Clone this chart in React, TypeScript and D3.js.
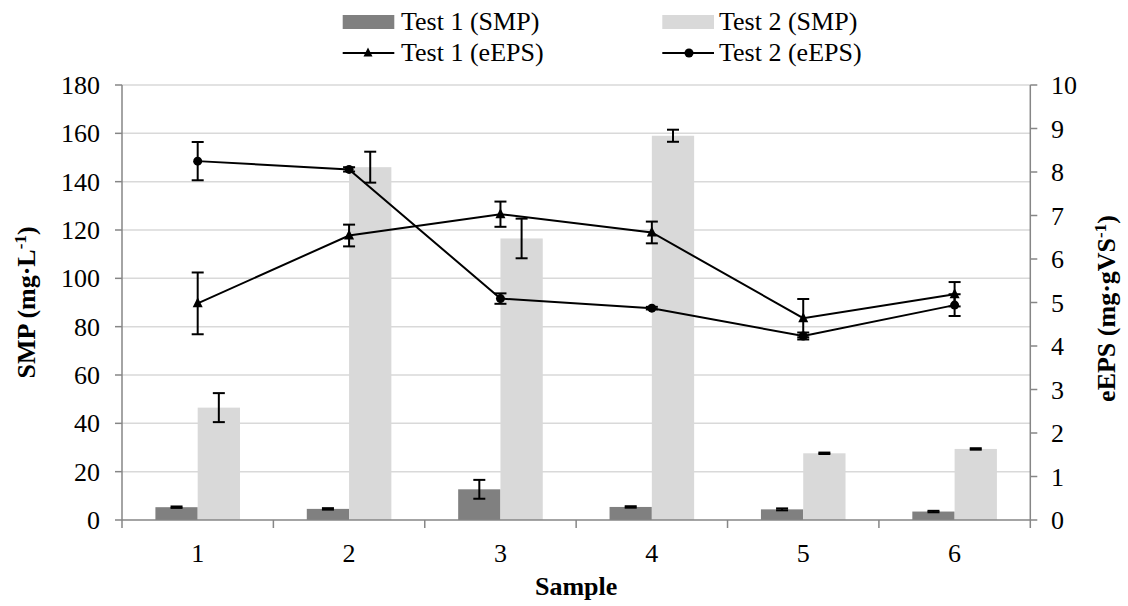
import React from "react";
import * as d3 from "d3";

// sample categories and series
const samples = ["1", "2", "3", "4", "5", "6"];

const smpTest1 = [5.3, 4.6, 12.7, 5.4, 4.4, 3.5];
const smpTest1Err = [0.3, 0.3, 3.9, 0.3, 0.4, 0.3];
const smpTest2 = [46.5, 146, 116.5, 159, 27.6, 29.4];
const smpTest2Err = [6, 6.4, 8.2, 2.5, 0.3, 0.3];

const epsTest1 = [4.98, 6.54, 7.03, 6.61, 4.64, 5.19];
const epsTest1Err = [0.71, 0.25, 0.29, 0.25, 0.44, 0.28];
const epsTest2 = [8.25, 8.06, 5.09, 4.87, 4.23, 4.94];
const epsTest2Err = [0.44, 0.05, 0.12, 0.03, 0.08, 0.25];

const leftTicks = [0, 20, 40, 60, 80, 100, 120, 140, 160, 180];
const rightTicks = [0, 1, 2, 3, 4, 5, 6, 7, 8, 9, 10];
const barSeries = ["Test 1 (SMP)", "Test 2 (SMP)"];

const width = 1128;
const height = 606;
const margin = { top: 85, right: 97.7, bottom: 86, left: 122 };

const font = "Liberation Serif";
const fs = 26;
const axisColor = "#868686";
const gridColor = "#d9d9d9";
const barColors = ["#808080", "#d9d9d9"];

const App = () => {
    const x0 = d3.scaleBand().domain(samples).range([margin.left, width - margin.right]).padding(0);
    const x1 = d3.scaleBand().domain(barSeries).range([0, x0.bandwidth()]).paddingInner(0).paddingOuter(0.79);
    const yL = d3.scaleLinear().domain([0, 180]).range([height - margin.bottom, margin.top]);
    const yR = d3.scaleLinear().domain([0, 10]).range([height - margin.bottom, margin.top]);

    const cx = (i: number) => (x0(samples[i]) as number) + x0.bandwidth() / 2;
    const bx = (i: number, s: number) => (x0(samples[i]) as number) + (x1(barSeries[s]) as number);

    const line = d3.line<number>().x((_, i) => cx(i)).y((d) => yR(d));

    const cap = 6;
    const errBar = (x: number, yTop: number, yBot: number, key: string) => (
        <g key={key} stroke="black" strokeWidth={2}>
            <line x1={x} x2={x} y1={yTop} y2={yBot} />
            <line x1={x - cap} x2={x + cap} y1={yTop} y2={yTop} />
            <line x1={x - cap} x2={x + cap} y1={yBot} y2={yBot} />
        </g>
    );

    const tri = (x: number, y: number, s = 5) => `M${x},${y - s - 1}L${x + s},${y + s - 1}L${x - s},${y + s - 1}Z`;

    const x0Left = margin.left;
    const x0Right = width - margin.right;
    const yBase = height - margin.bottom;

    return (
        <div style={{ position: "absolute", left: 0, top: 0 }}>
            <svg width={width} height={height} fontFamily={font} style={{ display: "block", background: "white" }}>
                {/* gridlines */}
                {leftTicks.slice(1).map((t) => (
                    <line key={"g" + t} x1={x0Left} x2={x0Right} y1={yL(t)} y2={yL(t)} stroke={gridColor} strokeWidth={1.5} />
                ))}

                {/* bars */}
                {smpTest1.map((d, i) => (
                    <rect key={"b1" + i} x={bx(i, 0)} y={yL(d)} width={x1.bandwidth()} height={yBase - yL(d)} fill={barColors[0]} />
                ))}
                {smpTest2.map((d, i) => (
                    <rect key={"b2" + i} x={bx(i, 1)} y={yL(d)} width={x1.bandwidth()} height={yBase - yL(d)} fill={barColors[1]} />
                ))}
                {smpTest1.map((d, i) =>
                    errBar(bx(i, 0) + x1.bandwidth() / 2, yL(d + smpTest1Err[i]), yL(d - smpTest1Err[i]), "e1" + i)
                )}
                {smpTest2.map((d, i) =>
                    errBar(bx(i, 1) + x1.bandwidth() / 2, yL(d + smpTest2Err[i]), yL(d - smpTest2Err[i]), "e2" + i)
                )}

                {/* axes */}
                <line x1={x0Left} x2={x0Left} y1={margin.top} y2={yBase} stroke={axisColor} strokeWidth={1.5} />
                <line x1={x0Right} x2={x0Right} y1={margin.top} y2={yBase} stroke={axisColor} strokeWidth={1.5} />
                <line x1={x0Left} x2={x0Right} y1={yBase} y2={yBase} stroke={axisColor} strokeWidth={1.5} />
                {leftTicks.map((t) => (
                    <g key={"lt" + t}>
                        <line x1={x0Left - 7} x2={x0Left} y1={yL(t)} y2={yL(t)} stroke={axisColor} strokeWidth={1.5} />
                        <text x={100} y={yL(t)} dy="0.35em" textAnchor="end" fontSize={fs} fontFamily={font}>{t}</text>
                    </g>
                ))}
                {rightTicks.map((t) => (
                    <g key={"rt" + t}>
                        <line x1={x0Right} x2={x0Right + 7} y1={yR(t)} y2={yR(t)} stroke={axisColor} strokeWidth={1.5} />
                        <text x={1051} y={yR(t)} dy="0.35em" textAnchor="start" fontSize={fs} fontFamily={font}>{t}</text>
                    </g>
                ))}
                {samples.map((s, i) => (
                    <g key={"xt" + s}>
                        <line x1={x0(s) as number} x2={x0(s) as number} y1={yBase} y2={yBase + 8} stroke={axisColor} strokeWidth={1.5} />
                        <text x={cx(i)} y={yBase + 33} dy="0.35em" textAnchor="middle" fontSize={fs} fontFamily={font}>{s}</text>
                    </g>
                ))}
                <line x1={x0Right} x2={x0Right} y1={yBase} y2={yBase + 8} stroke={axisColor} strokeWidth={1.5} />

                {/* lines */}
                <path d={line(epsTest1) || ""} fill="none" stroke="black" strokeWidth={2} />
                <path d={line(epsTest2) || ""} fill="none" stroke="black" strokeWidth={2} />
                {epsTest1.map((d, i) => errBar(cx(i), yR(d + epsTest1Err[i]), yR(d - epsTest1Err[i]), "le1" + i))}
                {epsTest2.map((d, i) => errBar(cx(i), yR(d + epsTest2Err[i]), yR(d - epsTest2Err[i]), "le2" + i))}
                {epsTest1.map((d, i) => (
                    <path key={"m1" + i} d={tri(cx(i), yR(d))} fill="black" />
                ))}
                {epsTest2.map((d, i) => (
                    <circle key={"m2" + i} cx={cx(i)} cy={yR(d)} r={4.5} fill="black" />
                ))}

                {/* axis titles */}
                <text transform={`translate(26,${(margin.top + yBase) / 2}) rotate(-90)`} textAnchor="middle" dy="0.35em" fontSize={fs} fontWeight="bold" fontFamily={font}>
                    SMP (mg·L<tspan fontSize={17} dy="-9">-1</tspan><tspan dy="9">)</tspan>
                </text>
                <text transform={`translate(1106,${(margin.top + yBase) / 2 + 6}) rotate(-90)`} textAnchor="middle" dy="0.35em" fontSize={fs} fontWeight="bold" fontFamily={font}>
                    eEPS (mg·gVS<tspan fontSize={17} dy="-9">-1</tspan><tspan dy="9">)</tspan>
                </text>
                <text x={(x0Left + x0Right) / 2} y={595} textAnchor="middle" fontSize={fs} fontWeight="bold" fontFamily={font}>Sample</text>

                {/* legend */}
                <rect x={342.7} y={15} width={51.6} height={14} fill={barColors[0]} />
                <text x={401} y={30} fontSize={fs} fontFamily={font}>Test 1 (SMP)</text>
                <rect x={662.3} y={15} width={51.7} height={14} fill={barColors[1]} />
                <text x={719} y={30} fontSize={fs} fontFamily={font}>Test 2 (SMP)</text>
                <line x1={342.7} x2={394.3} y1={53} y2={53} stroke="black" strokeWidth={2} />
                <path d={tri(368, 53, 4.5)} fill="black" />
                <text x={401} y={61} fontSize={fs} fontFamily={font}>Test 1 (eEPS)</text>
                <line x1={662.3} x2={714} y1={53} y2={53} stroke="black" strokeWidth={2} />
                <circle cx={689} cy={53} r={4.5} fill="black" />
                <text x={719} y={61} fontSize={fs} fontFamily={font}>Test 2 (eEPS)</text>
            </svg>
        </div>
    );
};

export default App;
